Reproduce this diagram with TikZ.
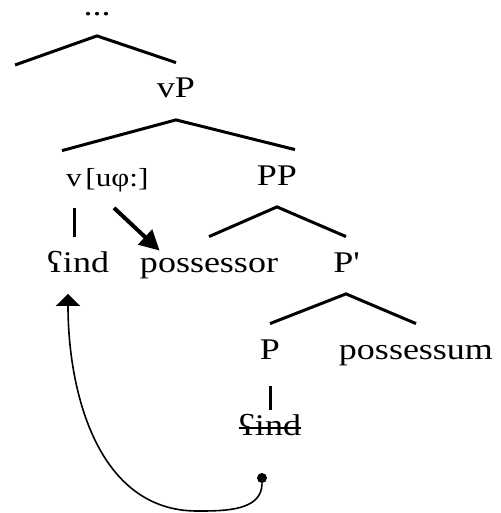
\documentclass[tikz,border=0pt]{standalone}
\usepackage{fontspec}
\setmainfont{Liberation Serif}[FakeStretch=1.2]
\usetikzlibrary{arrows.meta}

\begin{document}
\begin{tikzpicture}[
    x=0.5pt, y=-0.5pt,
    every node/.style={font=\fontsize{15}{18}\selectfont,
        inner xsep=0pt, inner ysep=7pt,
        text height=10.5pt, text depth=3.75pt, anchor=base},
    small/.style={font=\fontsize{13}{16}\selectfont},
    branch/.style={line width=1.5pt},
    agree/.style={line width=2pt, -{Triangle[length=10pt,width=10pt]}},
    move/.style={line width=0.8pt, -{Triangle[length=6pt,width=12pt]}},
    tail/.style={circle, fill, inner sep=0pt, minimum size=5pt,
        text height=0pt, text depth=0pt, anchor=center}
]
\useasboundingbox (0,0) rectangle (500,513);

% labels
\node[text height=3pt, inner ysep=2pt] (dots) at (97,16) {...};
\node (vP)    at (176,98)  {vP};
\node[small] (v)    at (74,186)  {v};
\node[small] (feat) at (117,186) {[uφ:]};
\node (PP)    at (277,185) {PP};
\node (fnd)   at (78,272)  {ʕind};
\node (possr) at (209,272) {possessor};
\node (Pbar)  at (346,272) {P\textquotesingle};
\node (P)     at (270,359) {P};
\node (possm) at (416,359) {possessum};
\node (fnd2)  at (270,435) {ʕind};
\node[tail] (dot) at (262,478) {};
\coordinate (lft) at (15,65);
\coordinate (low) at (197,511);

% branches
\draw[branch] (lft) -- ([yshift=-4pt]dots.south) -- (vP.north);
\draw[branch] ([xshift=-6pt]v.north) -- (vP.south) -- ([xshift=9pt]PP.north);
\draw[branch] (possr.north) -- (PP.south) -- (Pbar.north);
\draw[branch] (P.north) -- (Pbar.south) -- (possm.north);
\draw[branch] (v.south) -- (v.south |- fnd.north);
\draw[branch, shorten <=2.5pt, shorten >=-5pt] (P.south) -- (fnd2.north);

% strike-out of the lower copy
\draw[line width=0.9pt] ([yshift=3.5pt]fnd2.base west)
    -- ([yshift=3.5pt]fnd2.base east);

% agree
\draw[agree] ([xshift=-1.5pt]feat.south)
    -- ([xshift=10pt,yshift=-7pt]possr.north west);

% movement
\draw[move] (dot.south) to[out=-90,in=0] (low)
    to[out=180,in=-90] ([xshift=-5pt]fnd.south);

\end{tikzpicture}
\end{document}
